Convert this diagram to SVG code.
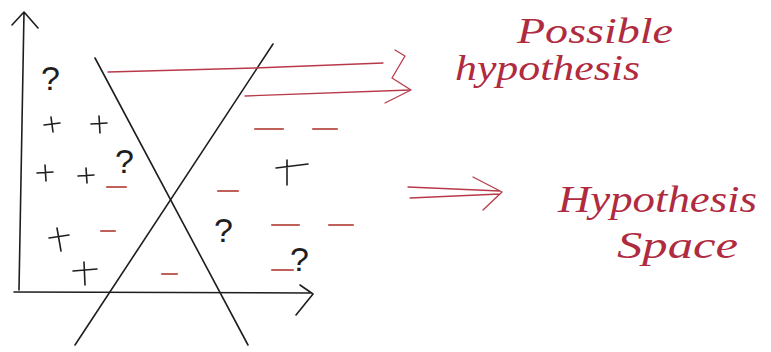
<svg xmlns="http://www.w3.org/2000/svg" width="771" height="352" viewBox="0 0 771 352">
<style>
.ink{fill:none;stroke:#1e1e1e;stroke-width:1.6;stroke-linecap:round;stroke-linejoin:round}
.red{fill:none;stroke:#b83a4a;stroke-width:1.3;stroke-linecap:round;stroke-linejoin:round}
.neg{fill:none;stroke:#c0605a;stroke-width:2.2;stroke-linecap:round}
.q{font-family:"Liberation Sans",Arial,sans-serif;font-size:34px;fill:#1e1e1e}
.hw{font-family:"Liberation Serif","DejaVu Serif",serif;font-style:italic;fill:#b02a40}
</style>
<rect width="771" height="352" fill="#ffffff"/>
<g id="axes">
<path class="ink" d="M19,290 L24,12 M12,25 L24,12 L38,28"/>
<path class="ink" d="M14,292 L310,293 M300,285 L313,294 L296,315"/>
</g>
<g id="hypotheses">
<path class="ink" d="M95,58 L248,345"/>
<path class="ink" d="M273,44 L75,345"/>
</g>
<g id="positives">
<path class="ink" d="M44,125 L60,123 M51,117 L53,132"/>
<path class="ink" d="M91,124 L107,123 M99,116 L100,133"/>
<path class="ink" d="M37,173 L53,172 M45,165 L46,181"/>
<path class="ink" d="M78,176 L94,175 M86,168 L87,183"/>
<path class="ink" d="M49,238 L69,235 M57,228 L61,251"/>
<path class="ink" d="M73,271 L97,269 M84,262 L85,285"/>
<path class="ink" d="M276,168 L308,164 M287,160 L287,185"/>
</g>
<g id="negatives">
<path class="neg" d="M107,187 L126,187"/>
<path class="neg" d="M101,231 L115,231"/>
<path class="neg" d="M162,274 L177,274"/>
<path class="neg" d="M218,191 L238,191"/>
<path class="neg" d="M255,129 L283,129"/>
<path class="neg" d="M313,129 L337,129"/>
<path class="neg" d="M272,225 L299,225"/>
<path class="neg" d="M329,225 L353,225"/>
<path class="neg" d="M272,270 L293,270"/>
</g>
<g id="unknowns">
<text class="q" x="41" y="90">?</text>
<text class="q" x="115" y="173">?</text>
<text class="q" x="214" y="242">?</text>
<text class="q" x="290" y="271">?</text>
</g>
<g id="connectors">
<path class="red" d="M108,72 L255,68 L383,63"/>
<path class="red" d="M245,96 L410,90"/>
<path class="red" d="M395,50 L405,56 L392,78 L411,90 L385,103"/>
<path class="red" d="M408,187 L500,191 M410,198 L500,194 M473,177 L502,192 L483,210"/>
</g>
<g id="label-possible">
<text class="hw" x="517" y="43" font-size="36" textLength="156" lengthAdjust="spacingAndGlyphs">Possible</text>
<text class="hw" x="455" y="80" font-size="36" textLength="185" lengthAdjust="spacingAndGlyphs">hypothesis</text>
</g>
<g id="label-space">
<text class="hw" x="558" y="212" font-size="38" textLength="199" lengthAdjust="spacingAndGlyphs">Hypothesis</text>
<text class="hw" x="617" y="258" font-size="38" textLength="121" lengthAdjust="spacingAndGlyphs">Space</text>
</g>
</svg>
